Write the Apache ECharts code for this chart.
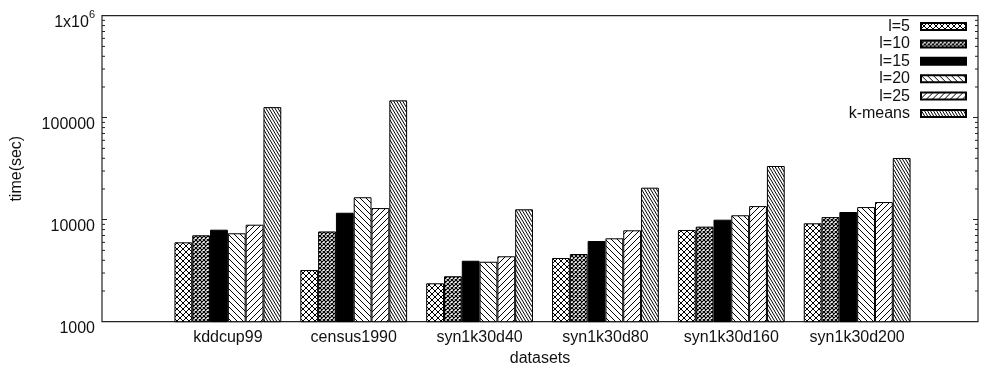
<!DOCTYPE html>
<html>
<head>
<meta charset="utf-8">
<script src="https://cdn.jsdelivr.net/npm/echarts@6/dist/echarts.min.js"></script>
<style>
  html, body { margin: 0; padding: 0; background: #fff; }
  #chart { width: 983px; height: 373px; }
</style>
</head>
<body>
<div id="chart"></div>
<script>
// Running time per dataset, for each l setting and for k-means (seconds, log scale)
const categories = ['kddcup99', 'census1990', 'syn1k30d40', 'syn1k30d80', 'syn1k30d160', 'syn1k30d200'];
const seriesNames = ['l=5', 'l=10', 'l=15', 'l=20', 'l=25', 'k-means'];
const l5     = [6000, 3210, 2380, 4210, 7930, 9220];
const l10    = [7030, 7670, 2790, 4610, 8550, 10600];
const l15    = [7980, 11700, 3960, 6180, 10000, 11900];
const l20    = [7360, 16600, 3870, 6570, 11050, 13300];
const l25    = [8930, 13000, 4380, 7870, 13600, 14900];
const kmeans = [127000, 148000, 12650, 20600, 33600, 40300];
const seriesValues = [l5, l10, l15, l20, l25, kmeans];

// y axis: range and the minor ticks between the decades
const yMin = 1000, yMax = 1000000;
const minorTicks = [2000, 3000, 4000, 5000, 6000, 7000, 8000, 9000,
                    20000, 30000, 40000, 50000, 60000, 70000, 80000, 90000,
                    200000, 300000, 400000, 500000, 600000, 700000, 800000, 900000];

// Fill patterns, one per series
function tile(w, h, draw, lw) {
  const c = document.createElement('canvas');
  c.width = w; c.height = h;
  const g = c.getContext('2d');
  g.fillStyle = '#fff';
  g.fillRect(0, 0, w, h);
  g.strokeStyle = '#000';
  g.lineWidth = lw || 1;
  g.beginPath();
  draw(g, w, h);
  g.stroke();
  return { image: c, repeat: 'repeat' };
}
function back(g, w, h) { for (let k = -1; k <= 1; k++) { g.moveTo(k * w, 0); g.lineTo(k * w + w, h); } }
function fwd(g, w, h)  { for (let k = -1; k <= 1; k++) { g.moveTo(k * w, h); g.lineTo(k * w + w, 0); } }
function cross(g, w, h) { back(g, w, h); fwd(g, w, h); }

const fills = [
  tile(6, 6, cross, 1),
  tile(4, 4, cross, 1.2),
  '#000',
  tile(6, 6, back, 1),
  tile(6, 6, fwd, 1),
  tile(3, 5, back, 1)
];

const font = 'Liberation Sans, Arial, sans-serif';
const chart = echarts.init(document.getElementById('chart'), null, { renderer: 'canvas' });

const barSeries = seriesNames.map((name, i) => ({
  name: name,
  type: 'bar',
  xAxisIndex: 0,
  yAxisIndex: 0,
  barWidth: 17.8,
  barGap: '0%',
  data: seriesValues[i].map((v, j) => [j, v]),
  itemStyle: { color: fills[i], borderColor: '#000', borderWidth: 1 },
  emphasis: { disabled: true },
  animation: false
}));

function yLabel(v) {
  if (v >= 1000000) return '{b|1x10}{s|6}';
  return '{b|' + v + '}';
}

const yCommon = {
  type: 'log',
  logBase: 10,
  min: yMin,
  max: yMax,
  axisLine: { show: false, onZero: false },
  axisTick: { show: true, inside: true, length: 5, lineStyle: { color: '#222', width: 1 } },
  splitLine: { show: false },
  minorTick: { show: false }
};

chart.setOption({
  backgroundColor: '#fff',
  animation: false,
  grid: {
    left: 102, right: 5, top: 15.7, bottom: 51.3,
    show: true, borderColor: '#222', borderWidth: 1.2, backgroundColor: 'transparent'
  },
  legend: {
    orient: 'vertical',
    right: 11,
    top: 13.5,
    align: 'right',
    itemWidth: 45,
    itemHeight: 7,
    itemGap: 1.4,
    icon: 'rect',
    selectedMode: false,
    data: seriesNames,
    textStyle: { fontFamily: font, fontSize: 16, color: '#111', lineHeight: 16, padding: [0, 6, 0, 0] }
  },
  xAxis: {
    type: 'value',
    min: -1,
    max: 5.96,
    interval: 1,
    name: 'datasets',
    nameLocation: 'middle',
    nameGap: 29,
    nameTextStyle: { fontFamily: font, fontSize: 16, color: '#111' },
    axisLine: { show: false, onZero: false },
    axisTick: { show: false },
    splitLine: { show: false },
    axisLabel: {
      margin: 8,
      fontFamily: font, fontSize: 16, color: '#111',
      showMinLabel: true, showMaxLabel: true,
      formatter: function (v) {
        const i = Math.round(v);
        return (Math.abs(v - i) < 1e-6 && categories[i] !== undefined) ? categories[i] : '';
      }
    }
  },
  yAxis: [
    Object.assign({}, yCommon, {
      position: 'left',
      name: 'time(sec)',
      nameLocation: 'middle',
      nameRotate: 90,
      nameGap: 77,
      nameTextStyle: { fontFamily: font, fontSize: 16, color: '#111' },
      axisLabel: {
        margin: 7,
        formatter: yLabel,
        rich: {
          b: { fontFamily: font, fontSize: 16, color: '#111', padding: [14, 0, 0, 0] },
          s: { fontFamily: font, fontSize: 11, color: '#111', padding: [0, 0, 2, 0] }
        }
      }
    }),
    Object.assign({}, yCommon, {
      position: 'right',
      axisLabel: { show: false }
    })
  ],
  series: barSeries
});

// Minor ticks on both vertical borders, placed through the axis scales
const x0 = chart.convertToPixel({ xAxisIndex: 0 }, -1);
const x1 = chart.convertToPixel({ xAxisIndex: 0 }, 5.96);
const tickLines = [];
minorTicks.forEach(v => {
  const y = chart.convertToPixel({ yAxisIndex: 0 }, v);
  tickLines.push({ type: 'line', silent: true, z: 10,
    shape: { x1: x0, y1: y, x2: x0 + 3, y2: y },
    style: { stroke: '#222', lineWidth: 1 } });
  tickLines.push({ type: 'line', silent: true, z: 10,
    shape: { x1: x1 - 3, y1: y, x2: x1, y2: y },
    style: { stroke: '#222', lineWidth: 1 } });
});
chart.setOption({ graphic: tickLines });
</script>
</body>
</html>
